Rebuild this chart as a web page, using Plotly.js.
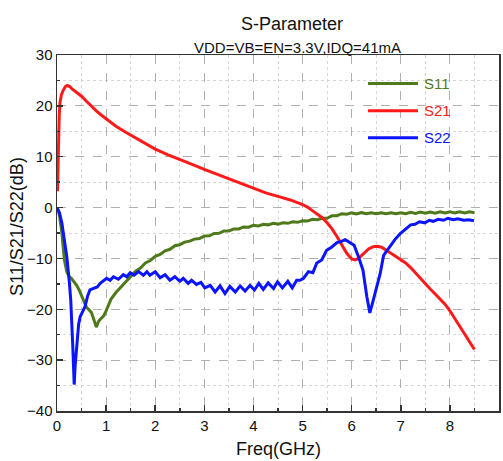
<!DOCTYPE html>
<html>
<head>
<meta charset="utf-8">
<script src="https://cdn.plot.ly/plotly-3.0.1.min.js"></script>
<style>html,body{margin:0;padding:0;background:#fff;}#chart{width:503px;height:461px;}</style>
</head>
<body>
<div id="chart"></div>
<script>
// ---- data ----
const s11Freq = [0,0.05,0.1,0.15,0.2,0.25,0.3,0.35,0.4,0.45,0.5,0.55,0.6,0.65,0.7,0.75,0.8,0.85,0.9,0.95,1.0,1.1,1.2,1.3,1.4,
  1.5,1.6,1.7,1.8,1.9,2.0,2.1,2.2,2.3,2.4,2.5,2.6,2.7,2.8,2.9,3.0,3.1,3.2,3.3,3.4,3.5,3.6,3.7,3.8,3.9,4.0,4.1,4.2,4.3,4.4,4.5,4.6,4.7,4.8,4.9,
  5.0,5.1,5.2,5.3,5.4,5.5,5.6,5.7,5.8,5.9,6.0,6.1,6.2,6.3,6.4,6.5,6.6,6.7,6.8,6.9,7.0,7.1,7.2,7.3,7.4,7.5,7.6,7.7,7.8,7.9,8.0,8.1,8.2,8.3,8.4,8.5];
const s11Values = [0,-1.5,-5.1,-10.3,-12.6,-13.6,-14.0,-14.6,-15.3,-16.2,-17.3,-18.7,-19.6,-20.1,-20.6,-22.0,-23.5,-22.3,-21.7,-21.3,-20.3,-18.0,-16.7,-15.6,-14.6,
  -13.6,-12.5,-11.9,-10.9,-10.4,-9.6,-9.2,-8.5,-8.2,-7.5,-7.3,-6.8,-6.6,-6.2,-6.1,-5.6,-5.55,-5.1,-5.05,-4.6,-4.6,-4.2,-4.2,-3.8,-3.85,-3.5,-3.6,-3.3,-3.4,-3.1,-3.25,-3.0,-3.1,-2.8,-2.9,
  -2.6,-2.65,-2.3,-2.4,-2.1,-2.1,-1.6,-1.6,-1.2,-1.3,-1.05,-1.25,-1.0,-1.2,-1.0,-1.2,-1.0,-1.2,-1.0,-1.2,-1.0,-1.2,-0.95,-1.15,-0.9,-1.1,-0.9,-1.1,-0.85,-1.05,-0.85,-1.05,-0.85,-1.05,-0.85,-1.0];

const s21Freq = [0.01,0.02,0.03,0.045,0.06,0.09,0.13,0.17,0.21,0.26,0.3,0.4,0.5,0.6,0.7,0.8,0.9,1.0,1.2,1.4,1.6,1.8,2.0,2.25,2.5,2.75,3.0,3.25,3.5,3.75,4.0,4.25,4.5,4.75,
  5.0,5.1,5.2,5.3,5.4,5.5,5.6,5.7,5.8,5.9,6.0,6.07,6.14,6.2,6.27,6.35,6.44,6.52,6.61,6.7,6.8,6.9,7.0,7.1,7.2,7.3,7.4,7.5,7.6,7.7,7.8,7.9,8.0,8.1,8.2,8.3,8.4,8.5];
const s21Values = [3.2,8.0,13.9,18.0,20.6,22.2,23.1,23.8,24.0,23.8,23.4,22.6,21.9,20.9,19.9,19.0,18.2,17.5,16.0,14.8,13.7,12.6,11.5,10.4,9.5,8.5,7.5,6.6,5.7,4.8,3.8,2.9,2.2,1.5,
  0.6,0.1,-0.6,-1.3,-2.0,-3.0,-4.2,-5.7,-7.5,-9.0,-10.1,-10.3,-10.0,-9.4,-8.7,-8.1,-7.7,-7.6,-7.8,-8.3,-9.0,-9.6,-10.2,-10.9,-11.8,-12.9,-14.0,-15.0,-16.0,-17.0,-18.0,-19.0,-20.3,-21.8,-23.3,-24.8,-26.4,-27.9];

const s22Freq = [0,0.05,0.1,0.15,0.2,0.25,0.28,0.32,0.35,0.37,0.4,0.44,0.47,0.52,0.57,0.62,0.67,0.72,0.77,0.82,0.88,0.93,
  1.01,1.08,1.15,1.25,1.35,1.42,1.49,1.57,1.66,1.76,1.83,1.89,2.0,2.1,2.2,2.3,2.4,2.5,2.57,2.67,2.74,2.84,2.93,3.01,3.12,3.22,3.32,3.42,3.52,3.63,3.73,3.83,3.93,
  4.02,4.11,4.2,4.3,4.41,4.49,4.59,4.7,4.79,4.88,4.95,5.02,5.12,5.21,5.29,5.39,5.49,5.59,5.7,5.78,5.87,5.97,6.05,6.14,6.23,6.31,6.37,6.44,6.52,6.58,6.65,6.75,6.88,6.99,
  7.12,7.2,7.29,7.38,7.49,7.58,7.66,7.76,7.87,7.96,8.07,8.16,8.28,8.38,8.49];
const s22Values = [0,-1.0,-3.1,-6.0,-9.7,-14.5,-18.2,-27.0,-34.8,-31.0,-26.7,-23.0,-21.5,-20.5,-19.5,-17.5,-16.2,-16.0,-15.8,-15.6,-14.9,-14.5,
  -13.9,-14.3,-13.6,-14.1,-13.2,-13.6,-12.8,-13.3,-12.6,-13.3,-12.6,-13.3,-12.6,-13.8,-13.2,-14.3,-13.6,-14.5,-13.9,-14.9,-14.3,-15.1,-14.7,-15.8,-15.3,-16.6,-15.4,-16.9,-15.5,-16.6,-15.4,-16.4,-15.3,
  -16.2,-14.9,-16.1,-14.8,-15.9,-14.6,-15.8,-14.5,-15.8,-14.3,-14.3,-13.9,-12.6,-12.8,-10.9,-10.3,-8.4,-7.8,-6.9,-6.7,-6.3,-6.9,-7.4,-9.7,-12.3,-17.6,-20.7,-18.2,-14.9,-13.0,-9.4,-8.0,-6.3,-5.1,
  -4.1,-3.4,-3.3,-2.8,-3.0,-2.5,-2.7,-2.3,-2.5,-2.1,-2.4,-2.2,-2.5,-2.4,-2.6];

const seriesNames = ['S11','S21','S22'];
const seriesColors = ['#4e7a1c','#ff1a1a','#0a14ff'];

const titleText = 'S-Parameter';
const subtitleText = 'VDD=VB=EN=3.3V,IDQ=41mA';
const xTitle = 'Freq(GHz)';
const yTitle = 'S11/S21/S22(dB)';

// ---- chart ----
const FONT = 'Liberation Sans, Arial, sans-serif';
const xs = [s11Freq, s21Freq, s22Freq];
const ys = [s11Values, s21Values, s22Values];
const traces = seriesNames.map((n,i)=>({
  type:'scatter', mode:'lines', name:n, x:xs[i], y:ys[i],
  line:{color:seriesColors[i], width:3, shape:'linear'}, showlegend:false, hoverinfo:'skip'
}));

const legY = [0.920, 0.8435, 0.7677];
const shapes = seriesNames.map((n,i)=>({
  type:'line', xref:'paper', yref:'paper', x0:0.7036, x1:0.8167, y0:legY[i], y1:legY[i],
  line:{color:seriesColors[i], width:3}
}));
const annotations = seriesNames.map((n,i)=>({
  xref:'paper', yref:'paper', x:0.826, y:legY[i], xanchor:'left', yanchor:'middle',
  text:n, showarrow:false, font:{family:FONT, size:15, color:seriesColors[i]}
}));
annotations.push(
  {xref:'paper', yref:'paper', x:0.532, y:1.0871, xanchor:'center', yanchor:'middle', text:titleText, showarrow:false, font:{family:FONT, size:18, color:'#111'}},
  {xref:'paper', yref:'paper', x:0.543, y:1.0197, xanchor:'center', yanchor:'middle', text:subtitleText, showarrow:false, font:{family:FONT, size:15, color:'#111'}},
  {xref:'paper', yref:'paper', x:0.502, y:-0.072, xanchor:'center', yanchor:'top', text:xTitle, showarrow:false, font:{family:FONT, size:18, color:'#111'}},
  {xref:'paper', yref:'paper', x:-0.0905, y:0.52, xanchor:'center', yanchor:'middle', textangle:-90, text:yTitle, showarrow:false, font:{family:FONT, size:18, color:'#111'}}
);

const axisCommon = {
  ticks:'inside', ticklen:6, tickwidth:1.5, tickcolor:'#333',
  showline:true, linecolor:'#333', linewidth:1.5, mirror:true,
  showgrid:true, gridcolor:'#b0b0b0', griddash:'dash', gridwidth:1,
  zeroline:false, tickfont:{family:FONT, size:15, color:'#111'}, fixedrange:true
};
const layout = {
  width:503, height:461,
  margin:{l:57, r:4, t:55, b:50},
  paper_bgcolor:'#fff', plot_bgcolor:'#fff',
  font:{family:FONT, color:'#111'},
  showlegend:false,
  xaxis:Object.assign({}, axisCommon, {range:[0,9], tick0:0, dtick:1,
    minor:{dtick:0.5, ticks:'inside', ticklen:3, tickcolor:'#333', showgrid:true, gridcolor:'#d6d6d6', griddash:'dot', gridwidth:1}}),
  yaxis:Object.assign({}, axisCommon, {range:[-40,30], tick0:0, dtick:10,
    minor:{dtick:5, ticks:'inside', ticklen:3, tickcolor:'#333', showgrid:true, gridcolor:'#d6d6d6', griddash:'dot', gridwidth:1}}),
  shapes:shapes, annotations:annotations
};
Plotly.newPlot('chart', traces, layout, {staticPlot:true, displayModeBar:false});
</script>
</body>
</html>
